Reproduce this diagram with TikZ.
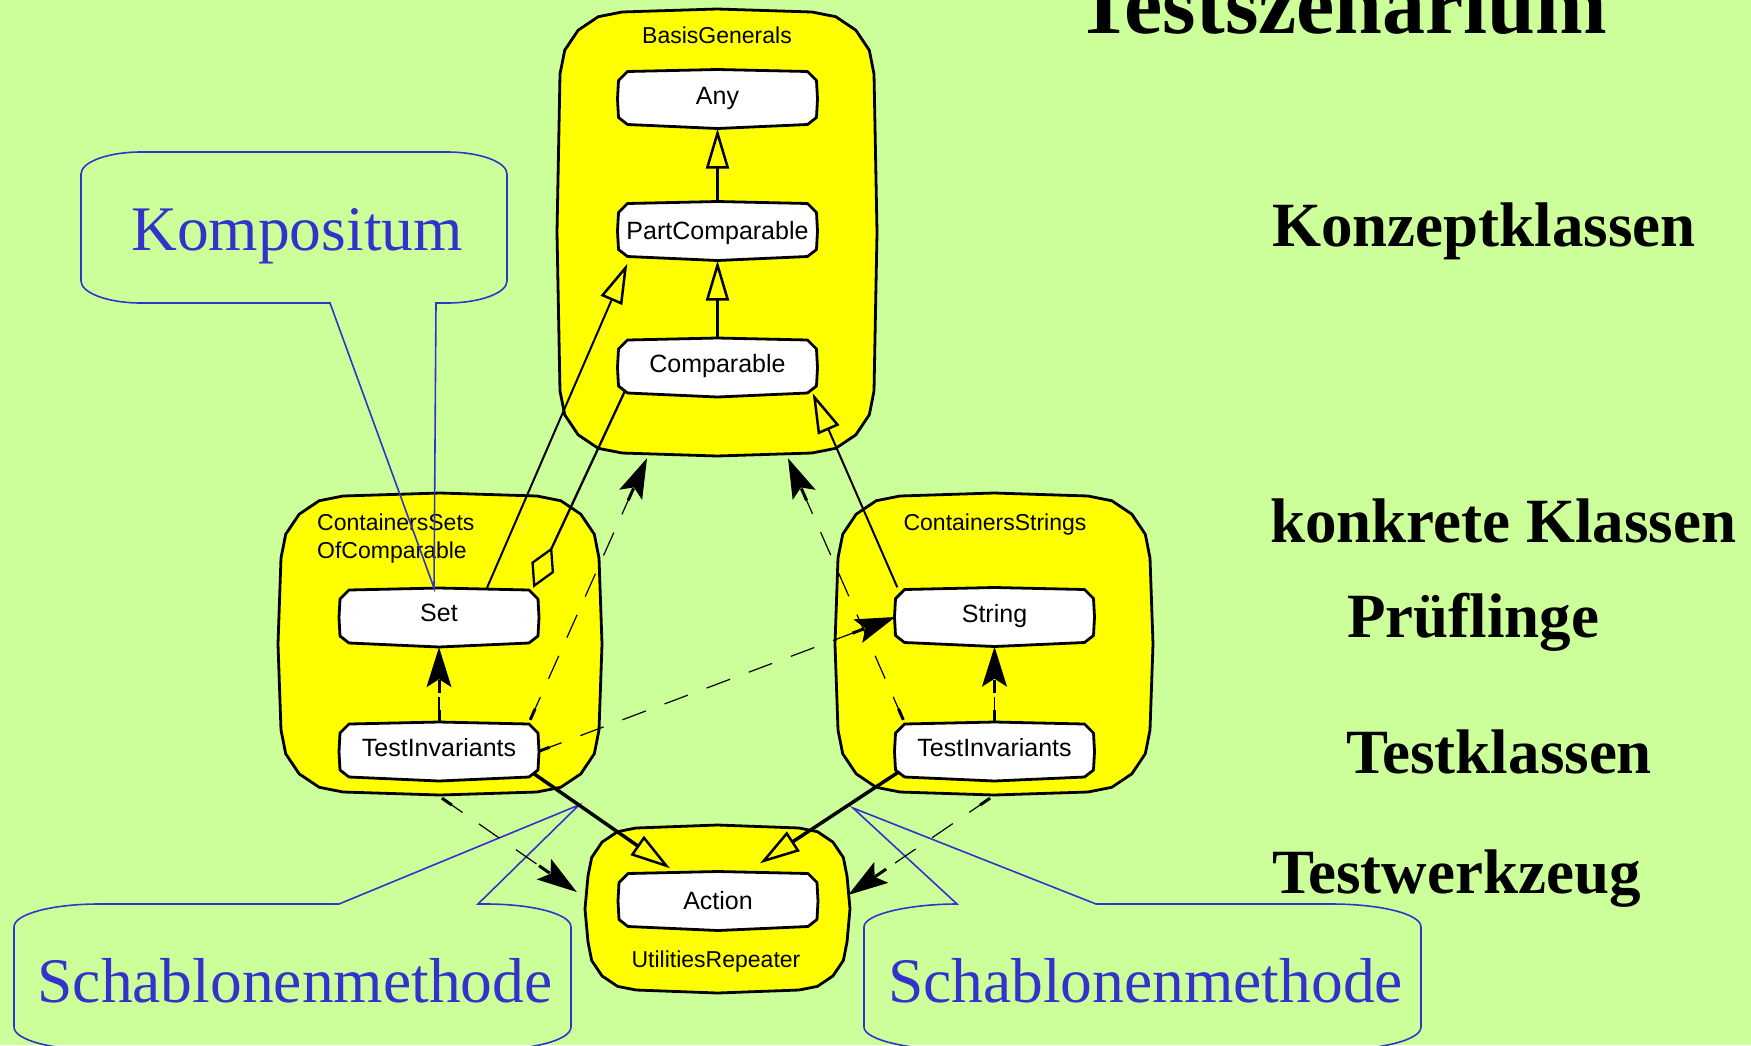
\documentclass[tikz,border=0pt]{standalone}
\usepackage{fontspec}
\setmainfont{Liberation Serif}
\newfontfamily\arialfont{Liberation Sans}
\usetikzlibrary{arrows.meta,calc}

\definecolor{bggreen}{RGB}{204,255,153}
\definecolor{pkgyellow}{RGB}{255,255,0}
\definecolor{noteblue}{RGB}{51,51,204}

\tikzset{
  pkg/.style={fill=pkgyellow, draw=black, line width=2.8pt, line join=round},
  area/.style={inner sep=0pt, draw=none},
  pkglabel/.style={inner sep=0pt, font=\arialfont\fontsize{23}{28}\selectfont, anchor=base},
  clsshape/.style={fill=white, draw=black, line width=2.8pt, line join=round},
  cls/.style={minimum width=198pt, minimum height=59pt, inner sep=0pt,
    text height=10pt, text depth=0pt, font=\arialfont\fontsize{25}{29}\selectfont},
  inherit/.style={-{Triangle[open, length=40pt, width=23pt, line width=2.5pt]}},
  aggr/.style={line width=2.3pt, -{Diamond[open, length=45pt, width=25pt, line width=2.3pt]}},
  dep/.style={line width=1.2pt, dash pattern=on 25pt off 20pt,
    -{Stealth[length=40pt, width=25pt, inset=8pt]}},
  depstub/.style={line width=3pt},
  callout/.style={draw=noteblue, line width=1.6pt, line join=miter},
  note/.style={inner sep=0pt, text=noteblue, font=\fontsize{63.5}{70}\selectfont, anchor=base},
  heading/.style={inner sep=0pt, font=\fontsize{63}{70}\selectfont\bfseries, anchor=base west},
}

% package frame: rounded polygon with slightly bulging sides, plus a named area node
\newcommand\umlpackage[6]{%
  \pgfmathsetmacro\pXa{#2+3}\pgfmathsetmacro\pYa{#3+3}%
  \pgfmathsetmacro\pXb{#4-3}\pgfmathsetmacro\pYb{#5-3}%
  \pgfmathsetmacro\pXm{(#2+#4)/2}\pgfmathsetmacro\pYm{(#3+#5)/2}%
  \pgfmathsetmacro\pR{#6}%
  \draw[pkg] ({\pXa+\pR},\pYa) -- (\pXm,#3) -- ({\pXb-\pR},\pYa)
    -- ({\pXb-0.617*\pR},{\pYa+0.076*\pR}) -- ({\pXb-0.293*\pR},{\pYa+0.293*\pR})
    -- ({\pXb-0.076*\pR},{\pYa+0.617*\pR}) -- (\pXb,{\pYa+\pR})
    -- (#4,\pYm) -- (\pXb,{\pYb-\pR})
    -- ({\pXb-0.076*\pR},{\pYb-0.617*\pR}) -- ({\pXb-0.293*\pR},{\pYb-0.293*\pR})
    -- ({\pXb-0.617*\pR},{\pYb-0.076*\pR}) -- ({\pXb-\pR},\pYb)
    -- (\pXm,#5) -- ({\pXa+\pR},\pYb)
    -- ({\pXa+0.617*\pR},{\pYb-0.076*\pR}) -- ({\pXa+0.293*\pR},{\pYb-0.293*\pR})
    -- ({\pXa+0.076*\pR},{\pYb-0.617*\pR}) -- (\pXa,{\pYb-\pR})
    -- (#2,\pYm) -- (\pXa,{\pYa+\pR})
    -- ({\pXa+0.076*\pR},{\pYa+0.617*\pR}) -- ({\pXa+0.293*\pR},{\pYa+0.293*\pR})
    -- ({\pXa+0.617*\pR},{\pYa+0.076*\pR}) -- cycle;
  \node[area, minimum width={(#4)-(#2)}, minimum height={(#5)-(#3)}] (#1) at (\pXm,\pYm) {};
}

% class box: chamfered outline with bowed top and bottom, text node on top
\newcommand\umlclass[5][]{%
  \begin{scope}[shift={(#3,#4)}]
    \draw[clsshape] (-90,-27.5) -- (0,-29.5) -- (90,-27.5) -- (99,-18.5) -- (100,0)
      -- (99,18.5) -- (90,25.5) -- (0,29.5) -- (-90,25.5) -- (-99,18.5) -- (-100,0)
      -- (-99,-18.5) -- cycle;
  \end{scope}
  \node[cls, #1] (#2) at (#3,#4) {#5};
}

% dashed dependency with short heavy pieces at both ends
\newcommand\depline[2]{%
  \draw[dep] (#1) -- (#2);
  \draw[depstub] (#1) -- ($(#1)!12pt!(#2)$);
  \draw[depstub] ($(#2)!33pt!(#1)$) -- ($(#2)!46pt!(#1)$);
}

\begin{document}
\begin{tikzpicture}[x=1pt, y=-1pt]
  \useasboundingbox (0,0) rectangle (1751,1045);
  \clip (0,0) rectangle (1751,1045);
  \fill[bggreen] (0,0) rectangle (1751,1045);

  % packages
  \umlpackage{bg}{557}{9}{877}{456}{62}
  \umlpackage{cs}{278}{493}{602}{795}{62}
  \umlpackage{cst}{835}{493}{1153}{795}{62}
  \umlpackage{ur}{585}{825}{850}{993}{48}

  \node[pkglabel] (bgLbl) at (717,43) {BasisGenerals};
  \node[pkglabel, anchor=base west] (csLblA) at (317,530) {ContainersSets};
  \node[pkglabel, anchor=base west] (csLblB) at (317,558) {OfComparable};
  \node[pkglabel] (cstLbl) at (995,530) {ContainersStrings};
  \node[pkglabel] (urLbl) at (716,967) {UtilitiesRepeater};

  % classes
  \umlclass{any}{717.5}{99}{Any}
  \umlclass[text height=17pt]{pc}{717.5}{231}{PartComparable}
  \umlclass{cmp}{717.5}{367.5}{Comparable}
  \umlclass[text height=8pt]{set}{439}{617.5}{Set}
  \umlclass{tiL}{439}{751.5}{TestInvariants}
  \umlclass{str}{994.5}{617}{String}
  \umlclass{tiR}{994.5}{751.5}{TestInvariants}
  \umlclass[text height=17pt]{act}{718}{901}{Action}

  % callouts
  \coordinate (kompTip) at ($(set.north)+(-5,0)$);
  \coordinate (tipL) at (579,805);
  \coordinate (tipR) at (853,808);
  \draw[callout] (330,303) -- (141,303) .. controls (108,303) and (81,293) .. (81,281)
    -- (81,174) .. controls (81,162) and (108,152) .. (141,152)
    -- (447,152) .. controls (480,152) and (507,162) .. (507,174)
    -- (507,281) .. controls (507,293) and (480,303) .. (447,303)
    -- (436,303) -- (kompTip) -- cycle;
  \draw[callout] (339,904) -- (99,904) .. controls (52,904) and (14,914) .. (14,927)
    -- (14,1027) .. controls (14,1040) and (52,1050) .. (99,1050)
    -- (486,1050) .. controls (533,1050) and (571,1040) .. (571,1027)
    -- (571,927) .. controls (571,914) and (533,904) .. (486,904)
    -- (478,904) -- (tipL) -- cycle;
  \draw[callout] (tipR) -- (957,904) .. controls (910,904) and (864,914) .. (864,927)
    -- (864,1027) .. controls (864,1040) and (910,1050) .. (957,1050)
    -- (1331,1050) .. controls (1381,1050) and (1421,1040) .. (1421,1027)
    -- (1421,927) .. controls (1421,914) and (1381,904) .. (1331,904)
    -- (1096,904) -- cycle;

  % generalisations
  \draw[inherit, line width=3pt] (pc.north) -- (any.south);
  \draw[inherit, line width=3pt] (cmp.north) -- (pc.south);
  \draw[inherit, line width=2pt] ($(set.north)+(48,0)$) -- ($(pc.south west)+(9,3)$);
  \draw[inherit, line width=2pt] ($(str.north west)+(2,0)$) -- ($(cmp.south east)+(-4,-4)$);
  \draw[inherit, line width=3.5pt] ($(tiL.south east)+(-5,-8)$) -- ($(act.north)+(-48,-3)$);
  \draw[inherit, line width=3.5pt] ($(tiR.south west)+(3,-9)$) -- ($(act.north)+(42,-8)$);

  % aggregation
  \draw[aggr] ($(cmp.south west)+(7,-7)$) -- ($(set.north east)+(-5,0)$);

  % dependencies
  \coordinate (d1a) at ($(tiL.north east)+(-8,-2)$);
  \coordinate (d1b) at ($(bg.south)+(-70,2)$);
  \coordinate (d2a) at ($(tiR.north west)+(8,-2)$);
  \coordinate (d2b) at ($(bg.south)+(71,2)$);
  \coordinate (d6a) at ($(cs.south)+(2,3)$);
  \coordinate (d6b) at ($(ur.west)+(-8,-17)$);
  \coordinate (d7a) at ($(cst.south)+(-4,3)$);
  \coordinate (d7b) at ($(ur.east)+(-2,-14)$);
  \depline{d1a}{d1b}
  \depline{d2a}{d2b}
  \depline{tiL.east}{str.west}
  \depline{tiL.north}{set.south}
  \depline{tiR.north}{str.south}
  \depline{d6a}{d6b}
  \depline{d7a}{d7b}

  % pattern names
  \node[note] (komp) at (297,250) {Kompositum};
  \node[note] (schabL) at (295,1002) {Schablonenmethode};
  \node[note] (schabR) at (1145.5,1002) {Schablonenmethode};

  % layer headings
  \node[heading, font=\fontsize{86}{92}\selectfont\bfseries] (title) at (1075,33) {Testszenarium};
  \node[heading] (hKonzept) at (1272,246) {Konzeptklassen};
  \node[heading] (hKonkret) at (1270,542) {konkrete Klassen};
  \node[heading] (hPruef) at (1347,637) {Prüflinge};
  \node[heading] (hTestkl) at (1346,773) {Testklassen};
  \node[heading] (hWerkzeug) at (1272,893) {Testwerkzeug};
\end{tikzpicture}
\end{document}
